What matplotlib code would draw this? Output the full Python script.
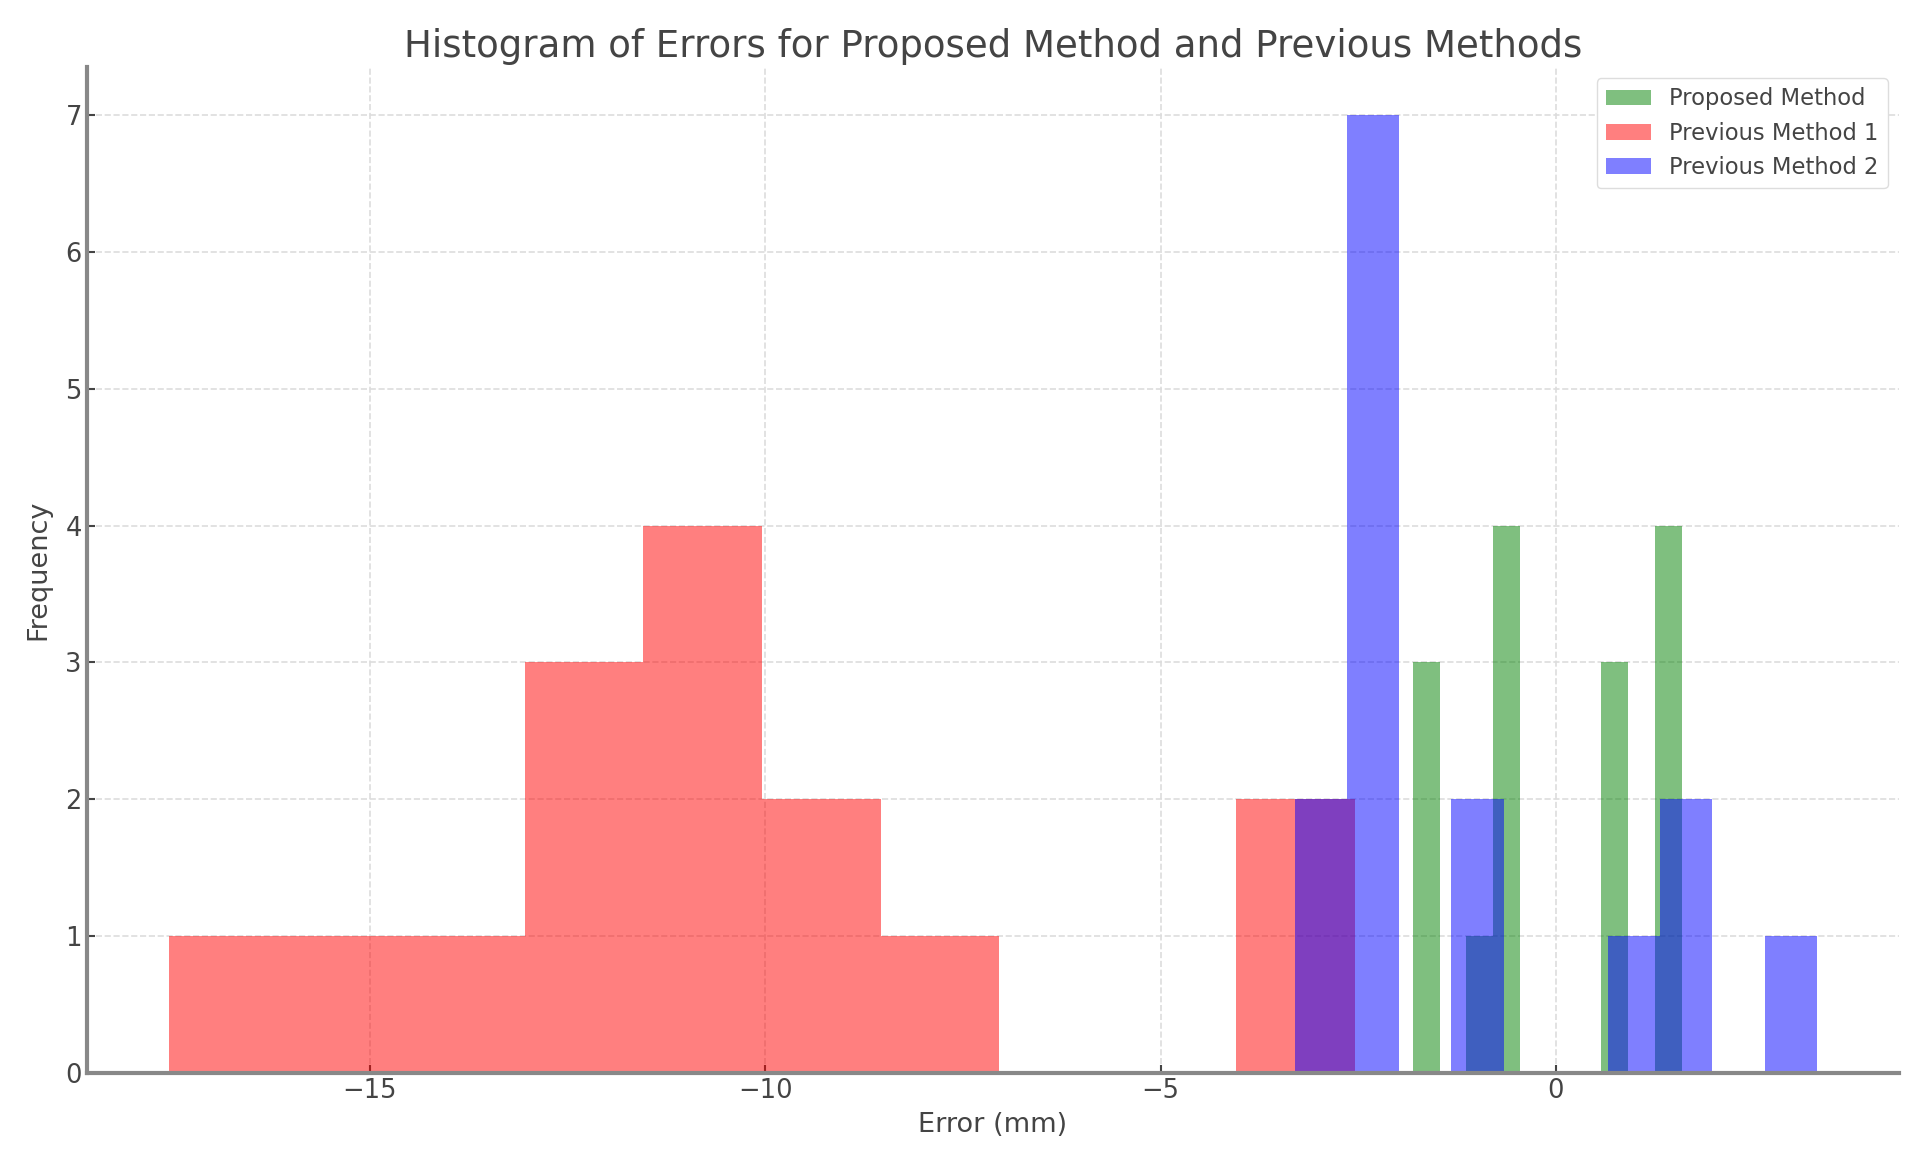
import numpy as np
import matplotlib.pyplot as plt

# bin edges and counts (10 bins per method)
proposed_edges = np.linspace(-1.81, 1.59, 11)
proposed_counts = [3, 0, 1, 4, 0, 0, 0, 3, 0, 4]

prev1_edges = np.linspace(-17.54, -2.54, 11)
prev1_counts = [1, 1, 1, 3, 4, 2, 1, 0, 0, 2]

prev2_edges = np.linspace(-3.30, 3.30, 11)
prev2_counts = [2, 7, 0, 2, 0, 0, 1, 2, 0, 1]

labels = ["Proposed Method", "Previous Method 1", "Previous Method 2"]
colors = ["green", "red", "blue"]

plt.rcParams['font.family'] = ['DejaVu Sans']
plt.rcParams['text.color'] = '#444444'
plt.rcParams['axes.labelcolor'] = '#444444'

fig = plt.figure(figsize=(19.28, 11.67), dpi=100)
ax = fig.add_axes([0.045, 0.0805, 0.94, 0.862])

series = [(proposed_edges, proposed_counts), (prev1_edges, prev1_counts), (prev2_edges, prev2_counts)]
for (edges, counts), lab, col in zip(series, labels, colors):
    ax.hist(edges[:-1], bins=edges, weights=counts, alpha=0.5, color=col, label=lab)

ax.set_title("Histogram of Errors for Proposed Method and Previous Methods", fontsize=26.7, pad=7)
ax.set_xlabel("Error (mm)", fontsize=19.5, labelpad=6)
ax.set_ylabel("Frequency", fontsize=19.5, labelpad=10)
ax.tick_params(labelsize=18.5, direction='in', length=6, width=1.5, colors='#444444')
ax.grid(True, linestyle='--', color='#dddddd', linewidth=1.2)
ax.set_axisbelow(True)
for s in ['top', 'right']:
    ax.spines[s].set_visible(False)
for s in ['left', 'bottom']:
    ax.spines[s].set_color('#888888')
    ax.spines[s].set_linewidth(3)
ax.legend(loc='upper right', fontsize=16.3, framealpha=1, edgecolor='#dddddd')

fig.savefig("out.png", dpi=100)
